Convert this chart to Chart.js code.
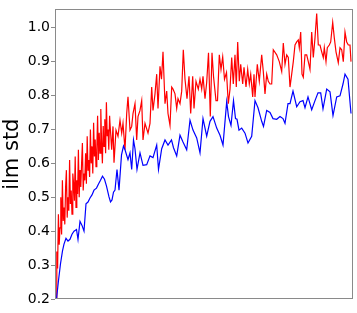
<!DOCTYPE html>
<html>
<head>
<meta charset="utf-8">
<script src="https://cdn.jsdelivr.net/npm/chart.js@4.4.0/dist/chart.umd.min.js"></script>
<style>
  html, body { margin: 0; padding: 0; background: #ffffff; }
  canvas { display: block; }
</style>
</head>
<body>
<canvas id="c" width="357" height="313"></canvas>
<script>
// ---- data ----
const yTicks = [0.2, 0.3, 0.4, 0.5, 0.6, 0.7, 0.8, 0.9, 1.0];
const yTitle = 'ilm std';

const redEarlyX = [0,0.8,1.6,2.4,3.2,4,4.8,5.6,6.4,7.2,8,8.8,9.6,10.4,11.2,12,12.8,13.6,14.4,15.2,16,16.8,17.6,18.4,19.2,20,20.8,21.6,22.4,23.2,24,24.8,25.6,26.4,27.2,28,28.8,29.6,30.4,31.2,32,32.8,33.6,34.4,35.2,36,36.8,37.6,38.4,39.2,40,40.8,41.6,42.4,43.2,44,44.8,45.6,46.4,47.2,48,48.8,49.6,50.4,51.2,52,52.8,53.6];
const redEarlyY = [0.20,0.34,0.29,0.45,0.36,0.41,0.50,0.39,0.55,0.43,0.47,0.42,0.53,0.58,0.44,0.50,0.46,0.61,0.48,0.52,0.45,0.57,0.54,0.49,0.62,0.47,0.55,0.51,0.64,0.50,0.58,0.53,0.60,0.66,0.52,0.57,0.55,0.63,0.54,0.68,0.58,0.61,0.56,0.70,0.60,0.65,0.57,0.72,0.62,0.67,0.59,0.64,0.74,0.61,0.69,0.63,0.76,0.66,0.60,0.71,0.65,0.73,0.63,0.78,0.68,0.70,0.64,0.74];

const redLateX = [54,55.7,57,58,60,62,64,65.7,67,69,70.7,72,74,75.7,77,79,80.7,82,84,85.7,87,89,92,94,95.7,97,99,100.7,102,104,105.5,107,109,110.7,112,114,115.7,117,119,120.7,122,124,125.7,127.3,129,131,133,134.7,136.7,138,140,142.3,144,145.7,147,149,150.7,152.5,154.3,156,157.5,160,161.5,163.3,165,166.7,168.5,170.5,172.3,174,175.7,177.3,179,180.3,181.7,183.3,184.7,186.7,188,190,191.7,193.3,194.7,196.7,198,199,201.3,203.3,205.7,207.3,209,210.7,212.3,214,215.7,217.3,220.7,223.3,225.7,227.3,229,230.7,232.3,234,235.7,237.3,239,240.7,242.3,243.3,244.7,246,247.3,249,250.7,252.3,254,255.7,257.3,259,260.7,262.3,264,265.7,267.3,268.3,270,271.3,273.3,274.7,276.7,278.3,280,282.3,284,285.7,287.3,289,290.7,292.3,294,295];
const redLateY = [0.718,0.640,0.709,0.602,0.698,0.680,0.727,0.689,0.718,0.640,0.747,0.796,0.698,0.709,0.747,0.776,0.669,0.738,0.756,0.785,0.669,0.718,0.689,0.718,0.825,0.756,0.805,0.863,0.762,0.886,0.848,0.929,0.776,0.813,0.747,0.712,0.825,0.819,0.805,0.762,0.791,0.776,0.813,0.935,0.848,0.791,0.857,0.747,0.857,0.762,0.842,0.819,0.848,0.819,0.857,0.791,0.839,0.926,0.738,0.926,0.857,0.785,0.785,0.920,0.877,0.914,0.848,0.868,0.776,0.819,0.912,0.834,0.920,0.825,0.958,0.842,0.892,0.834,0.883,0.825,0.877,0.834,0.863,0.796,0.863,0.796,0.892,0.842,0.920,0.871,0.805,0.863,0.842,0.834,0.834,0.935,0.920,0.900,0.871,0.955,0.892,0.920,0.912,0.825,0.863,0.900,0.949,0.958,0.964,0.941,0.987,0.863,0.854,0.920,0.920,0.900,0.877,0.987,0.912,0.970,1.042,0.949,0.949,0.929,0.912,0.941,0.900,0.941,0.949,0.958,1.016,0.970,0.929,0.897,0.941,0.935,0.900,0.987,0.958,0.949,0.949,0.900];

const blueX = [0.5,2.5,4.5,6.5,8,10,12,14,16,18,20.5,22,24,26,28,30,32,34,36,38,40.5,42.5,44.5,46.5,48.5,50.5,53,54.5,56,57.5,59,61,63,65.5,67.5,69,72,74,75.7,77.5,79,81,84,87,90.7,94,97,100.7,102.5,105.7,109,112,115.5,117.5,120.7,124,127,130.7,134,137,140.7,144,147,150.7,154,157,160.7,164,167,170.7,172.5,175,177.5,179.5,181,183,185.7,189,192,195.7,199,202,205.7,207.5,210.7,214,217,220.7,224,227,229,232,234,237,240.7,244,247,249,252,255.7,259,262,264.7,267,270.7,274,277,280.7,284,287,289,292,295];
const blueY = [0.20,0.255,0.304,0.342,0.362,0.379,0.371,0.376,0.391,0.400,0.405,0.376,0.429,0.417,0.400,0.481,0.486,0.498,0.507,0.521,0.527,0.539,0.550,0.562,0.553,0.533,0.501,0.486,0.492,0.515,0.521,0.582,0.521,0.625,0.651,0.640,0.611,0.631,0.582,0.669,0.643,0.582,0.631,0.594,0.596,0.622,0.617,0.654,0.582,0.643,0.669,0.654,0.669,0.646,0.622,0.683,0.663,0.640,0.727,0.698,0.675,0.631,0.732,0.680,0.724,0.738,0.704,0.683,0.654,0.782,0.738,0.712,0.785,0.732,0.730,0.698,0.704,0.689,0.660,0.680,0.785,0.764,0.724,0.709,0.756,0.750,0.732,0.730,0.738,0.732,0.718,0.776,0.776,0.813,0.767,0.782,0.785,0.764,0.796,0.758,0.785,0.808,0.808,0.761,0.819,0.811,0.741,0.796,0.799,0.834,0.863,0.848,0.747];

// ---- build datasets ----
const redX = redEarlyX.concat(redLateX);
const redY = redEarlyY.concat(redLateY);
const toPts = (xs, ys) => xs.map((x, i) => ({ x: x, y: ys[i] }));

const framePlugin = {
  id: 'frame',
  afterDraw(chart) {
    const a = chart.chartArea;
    const ctx = chart.ctx;
    ctx.save();
    ctx.strokeStyle = '#8a8a8a';
    ctx.lineWidth = 1;
    ctx.strokeRect(Math.round(a.left) + 0.5, Math.round(a.top) + 0.5,
                   Math.round(a.right - a.left) - 1, Math.round(a.bottom - a.top) - 1);
    ctx.restore();
  }
};

new Chart(document.getElementById('c'), {
  type: 'line',
  data: {
    datasets: [
      { data: toPts(blueX, blueY), borderColor: '#0000ff', borderWidth: 1.2,
        pointRadius: 0, tension: 0, fill: false },
      { data: toPts(redX, redY), borderColor: '#ff0000', borderWidth: 1.2,
        pointRadius: 0, tension: 0, fill: false }
    ]
  },
  options: {
    responsive: false,
    animation: false,
    devicePixelRatio: 1,
    layout: { padding: { left: 0, top: 4, right: 4, bottom: 14 } },
    plugins: { legend: { display: false }, tooltip: { enabled: false } },
    scales: {
      x: { type: 'linear', min: -1, max: 297, display: false },
      y: {
        type: 'linear', min: 0.2, max: 1.054,
        afterFit(scale) { scale.width = 55; },
        afterBuildTicks(scale) { scale.ticks = yTicks.map(v => ({ value: v })); },
        border: { display: false },
        grid: { drawOnChartArea: false, drawTicks: true, tickLength: 4, color: '#8a8a8a' },
        ticks: {
          color: '#000000', padding: 1,
          font: { family: 'DejaVu Sans', size: 14 },
          callback: v => Number(v).toFixed(1)
        },
        title: {
          display: true, text: yTitle, color: '#000000',
          font: { family: 'DejaVu Sans', size: 21 },
          padding: { top: 0, bottom: 0 }
        }
      }
    }
  },
  plugins: [framePlugin]
});
</script>
</body>
</html>
